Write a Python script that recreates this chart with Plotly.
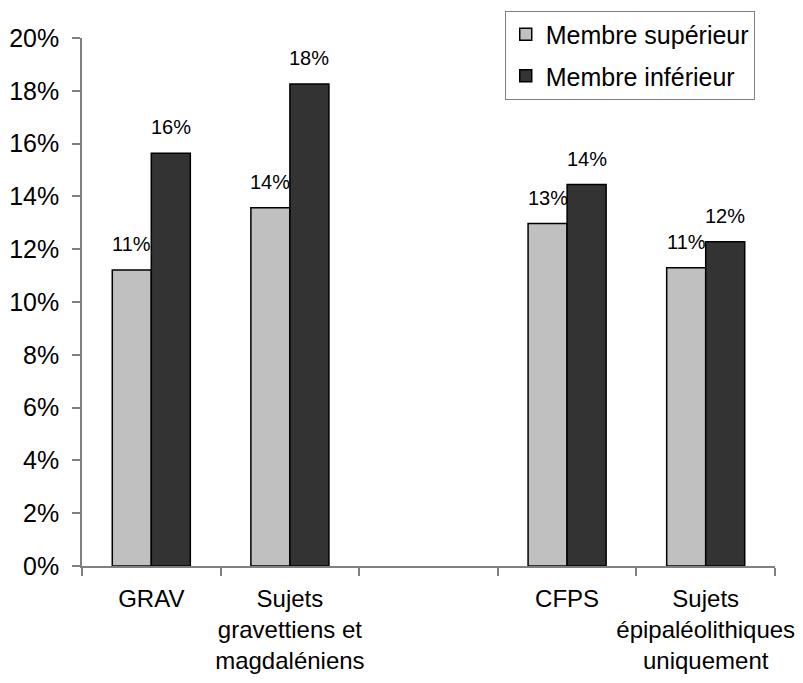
import plotly.graph_objects as go

categories = ["GRAV", "Sujets<br>gravettiens et<br>magdaléniens", " ", "CFPS",
              "Sujets<br>épipaléolithiques<br>uniquement"]
series_names = ["Membre supérieur", "Membre inférieur"]
superieur = [0.1121, 0.1357, None, 0.1297, 0.1130]
inferieur = [0.1563, 0.1826, None, 0.1445, 0.1228]
y_ticks = [0, 0.02, 0.04, 0.06, 0.08, 0.10, 0.12, 0.14, 0.16, 0.18, 0.20]
y_ticklabels = [f"{round(v * 100)}%" for v in y_ticks]

FONT = "Arial, 'Liberation Sans', sans-serif"
colors = ["#C0C0C0", "#333333"]
AX = "#808080"

fig = go.Figure()
for name, vals, col, grp in zip(series_names, [superieur, inferieur], colors, ["a", "b"]):
    fig.add_trace(go.Bar(
        x=categories, y=vals, name=name, legendgroup=grp,
        marker=dict(color=col, line=dict(color="black", width=1.5)),
        hoverinfo="skip",
    ))

annotations = []
for vals, shift in [(superieur, -19.5), (inferieur, 19.5)]:
    for c, v in zip(categories, vals):
        if v is None:
            continue
        annotations.append(dict(
            x=c, y=v, xref="x", yref="y", text=f"{round(v * 100)}%",
            showarrow=False, xshift=shift, yshift=13, yanchor="bottom",
            font=dict(family=FONT, size=20, color="black"),
        ))

fig.update_layout(
    width=803, height=683,
    margin=dict(l=74, r=36, t=30, b=125, autoexpand=False),
    paper_bgcolor="white", plot_bgcolor="white",
    barmode="group", bargap=0.437, bargroupgap=0,
    font=dict(family=FONT, size=25, color="black"),
    showlegend=True,
    legend=dict(
        x=0.610, y=1.052, xanchor="left", yanchor="top",
        bordercolor=AX, borderwidth=1, bgcolor="white",
        font=dict(family=FONT, size=25, color="black"),
        traceorder="grouped", tracegroupgap=6, itemwidth=30,
    ),
    annotations=annotations,
)
fig.update_xaxes(
    type="category", categoryorder="array", categoryarray=categories,
    showline=True, linecolor=AX, linewidth=1.5, automargin=False, tickangle=0,
    ticks="outside", tickson="boundaries", ticklen=8, tickcolor=AX, tickwidth=1.5,
    ticklabelstandoff=10,
    showgrid=False, zeroline=False,
    tickfont=dict(family=FONT, size=24, color="black"),
)
fig.update_yaxes(
    range=[0, 0.20], tickvals=y_ticks, ticktext=y_ticklabels, automargin=False,
    showline=True, linecolor=AX, linewidth=1.5,
    ticks="outside", ticklen=8, tickcolor=AX, tickwidth=1.5,
    ticklabelstandoff=8,
    showgrid=False, zeroline=False,
    tickfont=dict(family=FONT, size=25, color="black"),
)

fig.write_html("out.html")
